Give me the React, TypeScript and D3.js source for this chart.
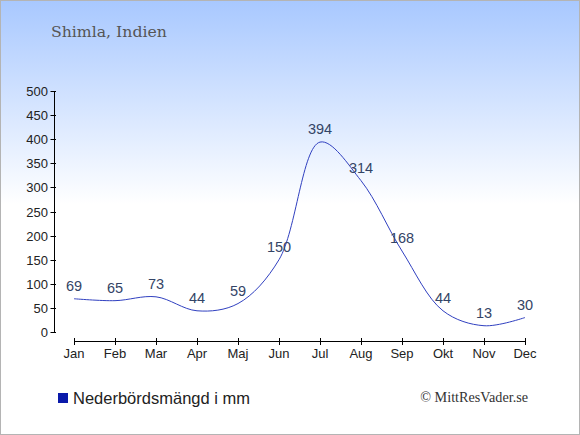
import React from "react";
import * as d3 from "d3";

const months = ["Jan", "Feb", "Mar", "Apr", "Maj", "Jun", "Jul", "Aug", "Sep", "Okt", "Nov", "Dec"];
const precipitation = [69, 65, 73, 44, 59, 150, 394, 314, 168, 44, 13, 30];
const yTicks = [0, 50, 100, 150, 200, 250, 300, 350, 400, 450, 500];
const title = "Shimla, Indien";
const legendLabel = "Nederbördsmängd i mm";
const credit = "© MittResVader.se";

const W = 580;
const H = 435;

export default function App() {
  const x = d3.scalePoint<string>().domain(months).range([74, 525]);
  const y = d3.scaleLinear().domain([0, 500]).range([332, 91]);
  const line = d3
    .line<number>()
    .x((_, i) => x(months[i]) as number)
    .y((d) => y(d))
    .curve(d3.curveCatmullRom.alpha(0.5));
  const sans = "'Liberation Sans', Arial, sans-serif";
  const serif = "'DejaVu Serif', serif";
  return (
    <svg
      width={W}
      height={H}
      style={{ position: "absolute", left: 0, top: 0 }}
    >
      <defs>
        <linearGradient id="bg" x1="0" y1="0" x2="0" y2="1">
          <stop offset="0" stopColor="#a8c8ff" />
          <stop offset="0.47" stopColor="#ffffff" />
          <stop offset="1" stopColor="#ffffff" />
        </linearGradient>
      </defs>
      <rect x={0.5} y={0.5} width={W - 1} height={H - 1} fill="url(#bg)" stroke="#b4b4b4" />
      <text x={51} y={37} fontFamily={serif} fontSize={15.7} fill="#555555">
        {title}
      </text>
      {/* y axis */}
      <line x1={54.5} x2={54.5} y1={y(500)} y2={y(0)} stroke="#000" />
      {yTicks.map((t) => (
        <g key={t}>
          <line x1={50.5} x2={56} y1={Math.round(y(t)) + 0.5} y2={Math.round(y(t)) + 0.5} stroke="#000" />
          <text x={48} y={y(t) + 5} textAnchor="end" fontFamily={sans} fontSize={13} fill="#222">
            {t}
          </text>
        </g>
      ))}
      {/* x axis */}
      <line x1={x("Jan")} x2={x("Dec")} y1={341.5} y2={341.5} stroke="#000" />
      {months.map((m) => (
        <g key={m}>
          <line x1={Math.round(x(m) as number) + 0.5} x2={Math.round(x(m) as number) + 0.5} y1={338} y2={345} stroke="#000" />
          <text x={x(m)} y={358} textAnchor="middle" fontFamily={sans} fontSize={13} fill="#222">
            {m}
          </text>
        </g>
      ))}
      <path d={line(precipitation) || ""} fill="none" stroke="#3040c0" strokeWidth={1} />
      {precipitation.map((v, i) => (
        <text
          key={i}
          x={x(months[i])}
          y={y(v) - 8}
          textAnchor="middle"
          fontFamily={sans}
          fontSize={14.5}
          fill="#334466"
        >
          {v}
        </text>
      ))}
      <rect x={58} y={393} width={10} height={10} fill="#0a1aaa" />
      <text x={73} y={403.5} fontFamily={sans} fontSize={16.5} fill="#222">
        {legendLabel}
      </text>
      <text x={528} y={402} textAnchor="end" fontFamily="'Liberation Serif', serif" fontSize={14.2} fill="#333">
        {credit}
      </text>
    </svg>
  );
}
